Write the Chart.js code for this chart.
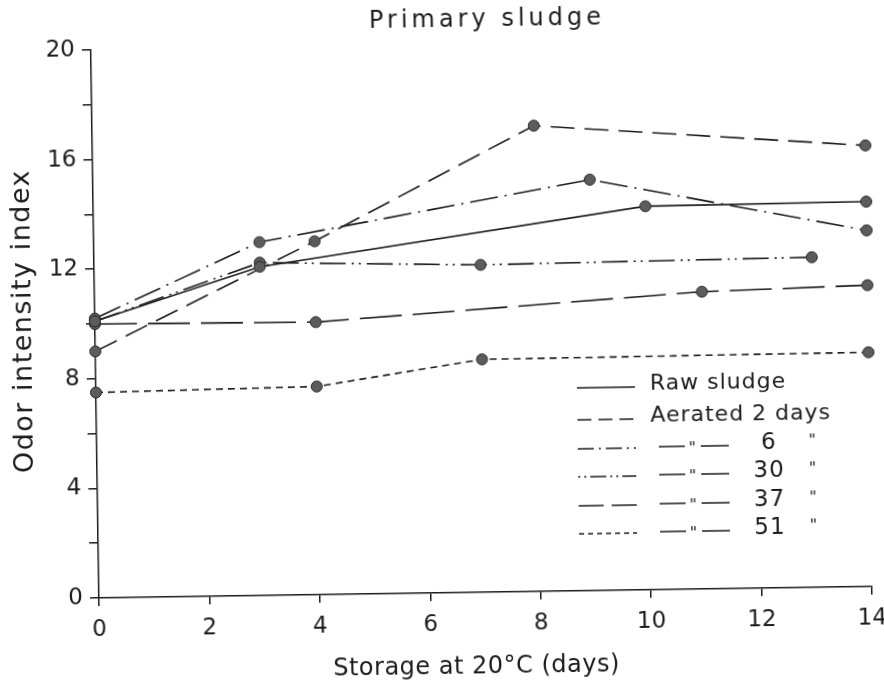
<!DOCTYPE html>
<html>
<head>
<meta charset="utf-8">
<title>Primary sludge</title>
<script src="https://cdn.jsdelivr.net/npm/chart.js@4.4.1/dist/chart.umd.min.js"></script>
<style>
    html, body { margin: 0; padding: 0; background: #fff; }
    #wrap { width: 884px; height: 685px; overflow: hidden; }
    /* the scanned original sits a little crooked: turn the plot about its origin */
    #chart { transform: rotate(-0.85deg); transform-origin: 99px 598px; }
</style>
</head>
<body>
<div id="wrap"><canvas id="chart" width="884" height="685"></canvas></div>
<script>
// ---- data ---------------------------------------------------------------
const chartTitle = 'Primary sludge';
const xTitle = 'Storage at 20°C (days)';
const yTitle = 'Odor intensity index';

const seriesNames = ['Raw sludge', 'Aerated 2 days', 'Aerated 6 days', 'Aerated 30 days', 'Aerated 37 days', 'Aerated 51 days'];
const aerationDays = [null, 2, 6, 30, 37, 51];

const rawDays     = [0, 3, 10, 14];
const rawIndex    = [10.1, 12.0, 14.0, 14.05];
const aer2Days    = [0, 4, 8, 14];
const aer2Index   = [9.0, 12.9, 17.0, 16.1];
const aer6Days    = [0, 3, 9, 14];
const aer6Index   = [10.2, 12.9, 15.0, 13.0];
const aer30Days   = [0, 3, 7, 13];
const aer30Index  = [10.1, 12.15, 11.95, 12.05];
const aer37Days   = [0, 4, 11, 14];
const aer37Index  = [10.0, 9.95, 10.85, 11.0];
const aer51Days   = [0, 4, 7, 14];
const aer51Index  = [7.5, 7.6, 8.5, 8.55];

const xTicks = [0, 2, 4, 6, 8, 10, 12, 14];
const yLabelled = [0, 4, 8, 12, 16, 20];

// ---- styling ------------------------------------------------------------
const INK = '#1c1c1c';
const FONT = '"DejaVu Sans", "Noto Sans", sans-serif';
const dashes = [[], [24, 10], [28, 7, 2, 7], [26, 6, 2, 5, 2, 6], [42, 11], [7, 5]];
// the key in the original uses shorter strokes than the plotted lines
const keyDashes = [[], [14, 7], [16, 5, 2, 5], [2, 4, 2, 4, 16, 4], [25, 8], [5, 4]];

const pairs = (xs, ys) => xs.map((x, i) => ({ x, y: ys[i] }));
const seriesData = [
    pairs(rawDays, rawIndex),
    pairs(aer2Days, aer2Index),
    pairs(aer6Days, aer6Index),
    pairs(aer30Days, aer30Index),
    pairs(aer37Days, aer37Index),
    pairs(aer51Days, aer51Index)
];

const datasets = seriesData.map((d, i) => ({
    label: seriesNames[i],
    data: d,
    borderColor: INK,
    borderWidth: 1.6,
    borderDash: dashes[i],
    pointRadius: 5.5,
    pointHoverRadius: 0,
    pointBackgroundColor: '#5c5c5c',
    pointBorderColor: '#2a2a2a',
    pointBorderWidth: 1,
    tension: 0,
    clip: false
}));

// titles + legend drawn by hand so they can sit inside the plot like the original
const textLayer = {
    id: 'textLayer',
    afterDraw(chart) {
        const { ctx, chartArea: a } = chart;
        ctx.save();
        ctx.fillStyle = INK;
        ctx.strokeStyle = INK;
        ctx.textBaseline = 'middle';

        ctx.textAlign = 'center';
        ctx.font = '24px ' + FONT;
        ctx.letterSpacing = '4px';
        ctx.fillText(chartTitle, (a.left + a.right) / 2 + 10, a.top - 24);

        ctx.font = '24px ' + FONT;
        ctx.letterSpacing = '0.5px';
        ctx.fillText(xTitle, (a.left + a.right) / 2 - 10, a.bottom + 75);

        ctx.save();
        ctx.translate(28, (a.top + a.bottom) / 2 - 4);
        ctx.rotate(-Math.PI / 2);
        ctx.font = '27px ' + FONT;
        ctx.letterSpacing = '1.5px';
        ctx.fillText(yTitle, 0, 0);
        ctx.restore();

        // legend
        const rowY = [392, 424, 453, 481, 510, 538];
        ctx.lineWidth = 1.6;
        chart.data.datasets.forEach((ds, i) => {
            const y = rowY[i];
            ctx.font = '22px ' + FONT;
            ctx.letterSpacing = '1px';
            ctx.setLineDash(keyDashes[i]);
            ctx.beginPath();
            ctx.moveTo(580, y + 3);
            ctx.lineTo(638, y + 3);
            ctx.stroke();
            ctx.setLineDash([]);
            ctx.textAlign = 'left';
            if (aerationDays[i] === null || i === 1) {
                ctx.fillText(i === 1 ? 'Aerated ' + aerationDays[i] + ' days' : ds.label, 653, y);
                return;
            }
            // ditto rows:  — " —   6   "
            ctx.beginPath();
            ctx.moveTo(661, y + 2); ctx.lineTo(687, y + 2);
            ctx.moveTo(703, y + 2); ctx.lineTo(731, y + 2);
            ctx.stroke();
            ctx.textAlign = 'center';
            ctx.font = '16px ' + FONT;
            ctx.fillText('"', 695, y + 5);
            ctx.fillText('"', 815, y - 1);
            ctx.font = '23px ' + FONT;
            ctx.fillText(String(aerationDays[i]), 771, y);
        });
        ctx.restore();
    }
};

new Chart(document.getElementById('chart'), {
    type: 'line',
    data: { datasets },
    plugins: [textLayer],
    options: {
        responsive: false,
        animation: false,
        devicePixelRatio: 1,
        events: [],
        layout: { padding: { top: 50, right: 12, left: 0, bottom: 0 } },
        plugins: { legend: { display: false }, title: { display: false }, tooltip: { enabled: false } },
        scales: {
            x: {
                type: 'linear',
                min: 0, max: 14,
                afterFit: s => { s.height = 87; s.paddingLeft = 0; s.paddingRight = 0; },
                afterBuildTicks: s => { s.ticks = xTicks.map(v => ({ value: v })); },
                border: { display: true, color: INK, width: 1.5 },
                grid: { drawOnChartArea: false, drawTicks: true, tickLength: 8, color: INK, lineWidth: 1.5 },
                ticks: { color: INK, font: { family: FONT, size: 23 }, padding: 10, maxRotation: 0 }
            },
            y: {
                min: 0, max: 20,
                afterFit: s => { s.width = 99; s.paddingTop = 0; s.paddingBottom = 0; },
                ticks: {
                    stepSize: 2,
                    color: INK,
                    font: { family: FONT, size: 23 },
                    padding: 7,
                    callback: v => yLabelled.includes(v) ? v : ''
                },
                border: { display: true, color: INK, width: 1.5 },
                grid: { drawOnChartArea: false, drawTicks: true, tickLength: 9, color: INK, lineWidth: 1.5 }
            }
        }
    }
});
</script>
</body>
</html>
